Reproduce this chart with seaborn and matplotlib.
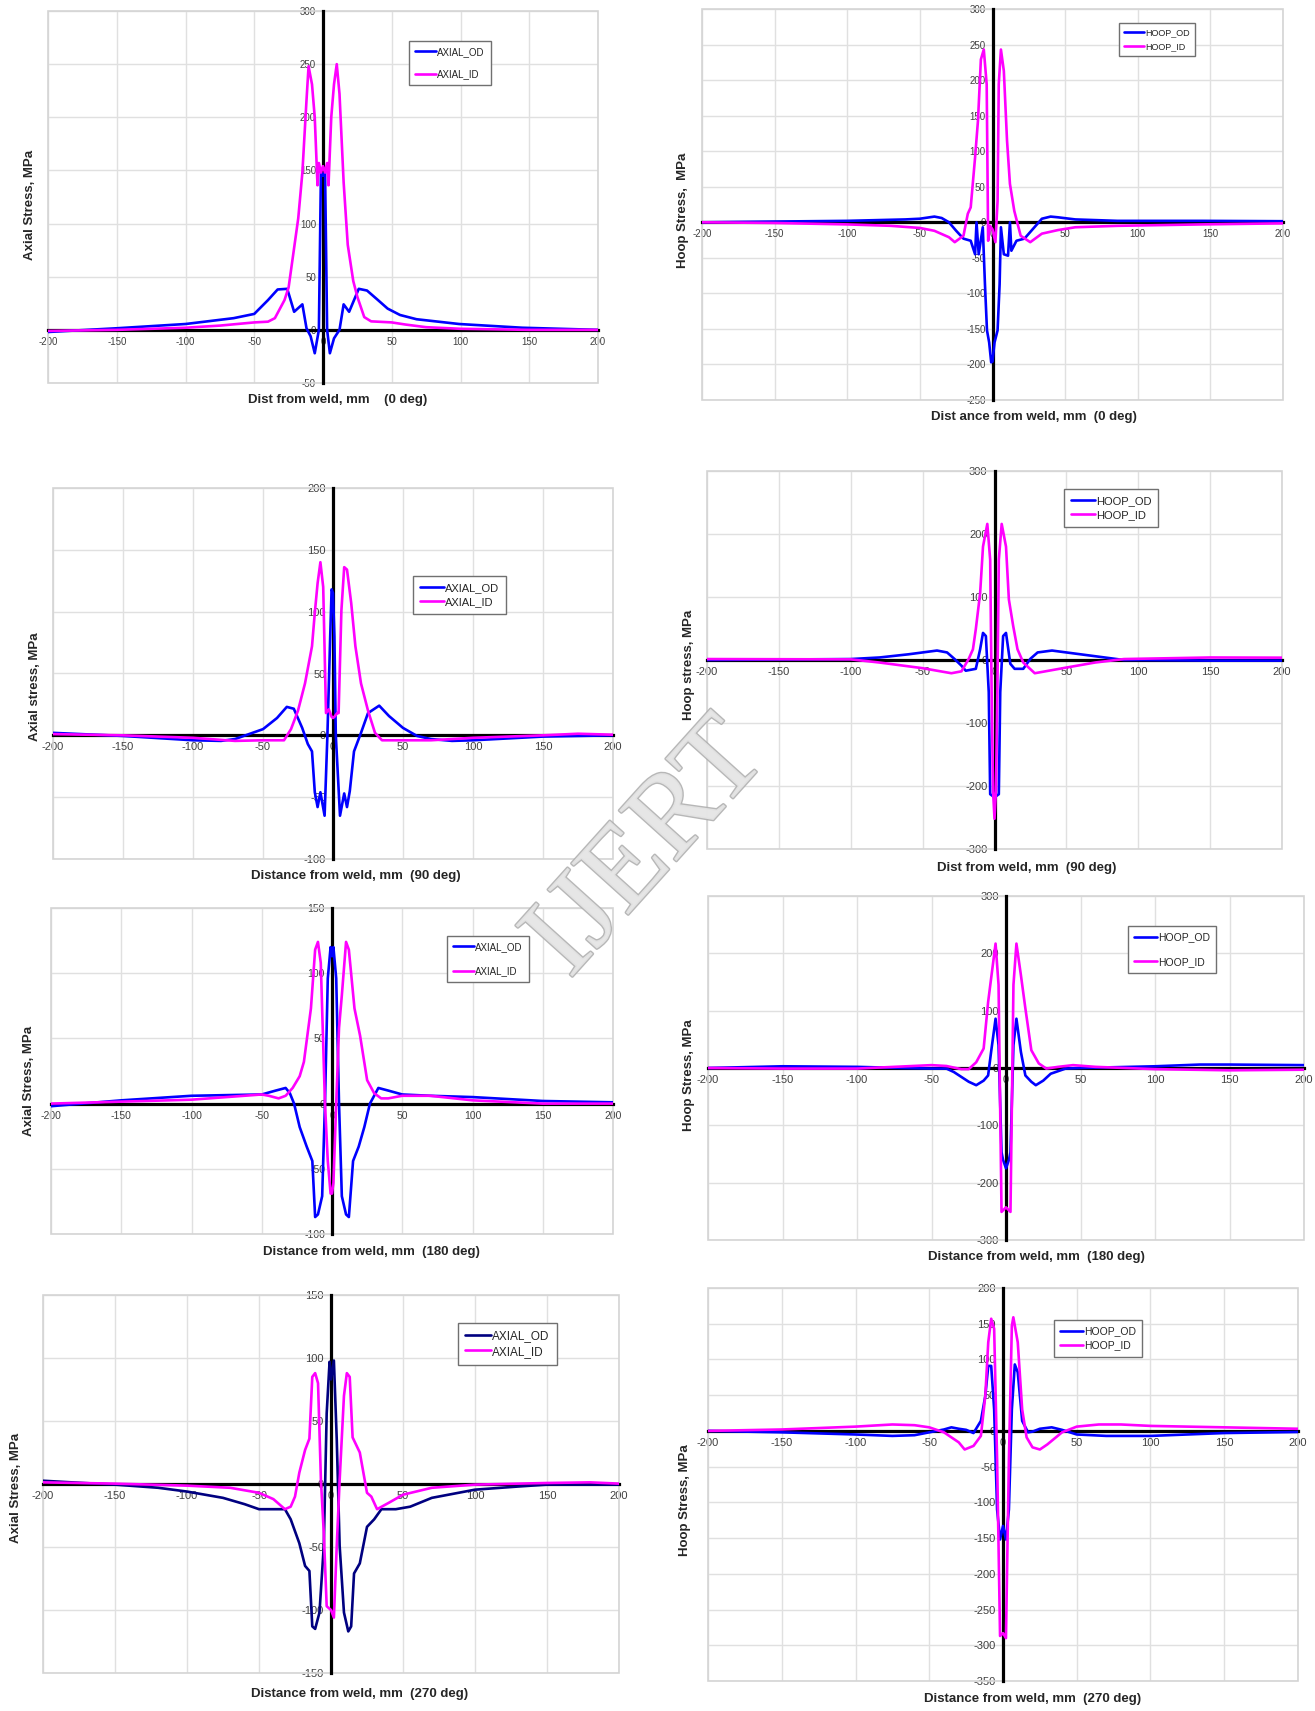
import matplotlib
matplotlib.use("Agg")
import matplotlib.pyplot as plt
import matplotlib.patheffects as pe
from matplotlib.patches import Rectangle
import seaborn as sns

sns.set_style("white")
plt.rcParams["font.family"] = ["Liberation Sans", "DejaVu Sans"]
plt.rcParams["axes.unicode_minus"] = False

# ---- data ----
# 0 deg, axial
x_a0_od = [-200, -150, -100, -65, -50, -40, -33, -26, -21, -15, -12, -9, -6, -3, -1.5, 0, 1.5, 3, 5, 8, 12, 15, 19, 26, 32, 40, 47, 56, 68, 99, 145, 200]
od_a0 = [-2, 1.5, 5.5, 11, 15, 28, 38, 38.6, 17, 24, 1.5, -6, -22, 0, 148, 145, 148, 0, -22, -8, 0, 24, 17, 38.6, 37, 28, 20, 14, 10, 5.5, 2, 0]
x_a0_id = [-200, -150, -100, -75, -50, -40, -35, -28, -25, -18, -15, -12, -10.5, -8, -6, -4, -3, -1.5, 0, 1.5, 3, 4, 6, 8, 10, 12, 15, 18, 22, 25, 30, 35, 50, 60, 75, 100, 150, 200]
id_a0 = [-1, 0, 2, 4, 7, 7.7, 11, 28, 40, 105, 148, 216, 248, 231, 200, 136, 157, 148, 154, 148, 157, 136, 200, 231, 250, 222, 139, 80, 46, 31, 12, 8, 7, 5, 2.5, 1, 0, 0]

# 0 deg, hoop
x_h0_od = [-200, -150, -100, -60, -50, -40, -35, -30, -25, -20, -15, -12, -11, -9.5, -6.7, -5.2, -3.8, -2.3, -0.9, 0, 1.4, 3.5, 4.9, 5.8, 7.8, 10.7, 12, 13, 16.5, 22, 28, 34, 40, 45, 57, 86, 144, 200]
od_h0 = [0, 1, 2, 4, 5, 8, 6, 0, -12, -23, -26, -45, 0, -45, -7, -87, -152, -169, -197, -196, -169, -152, -87, -7, -45, -47, 0, -40, -26, -23, -9, 5, 8, 7, 4, 2, 2, 1.5]
x_h0_id = [-200, -150, -100, -70, -50, -40, -30, -26, -20, -17, -15, -12, -10, -8, -6, -4, -3, -1.7, 0, 2, 3.5, 4.3, 5.8, 7.8, 10, 12, 15, 19.4, 26, 34, 45, 57, 86, 144, 200]
id_h0 = [0, -1, -3, -5, -8, -12, -21, -28, -19, 12, 21, 91, 143, 229, 243, 194, -26, -5, -10, -28, 30, 194, 243, 213, 115, 54, 16, -19, -28, -16, -11, -7, -5, -3, -1.5]

# 90 deg, axial
x_a90_od = [-200, -150, -100, -80, -70, -60, -50, -40, -33, -28, -22, -18, -15, -13, -11, -9, -6, -4, -2, -1, 0, 1, 2, 5, 8, 10, 12, 15, 20, 25, 33, 40, 50, 60, 70, 85, 100, 150, 200]
od_a90 = [2, -0.5, -4, -4.5, -3, 1, 5, 14, 23, 21.5, 6, -7, -13, -46, -58, -46, -65, 0, 80, 118, 115, 80, 0, -65, -47, -58, -45, -13, 2, 18, 24, 15.6, 6, -0.5, -3, -4.5, -4, -1, 0]
x_a90_id = [-200, -150, -100, -70, -50, -35, -30, -25, -20, -15, -13, -11, -9, -7, -5, -3, -1, 0, 1, 3, 4, 6, 8, 10, 13, 16, 20, 25, 30, 35, 50, 70, 100, 150, 175, 200]
id_a90 = [1, 0, -2, -4.5, -4, -4, 5, 20, 42, 72, 99, 123, 140, 120, 18, 21, 15, 14, 15, 18, 18, 101, 136, 134, 107, 72, 42, 20, 2, -4, -4, -4, -2, 0, 1.3, 0.5]

# 90 deg, hoop
x_h90_od = [-200, -100, -80, -60, -40, -33, -28, -23, -20, -13, -10, -8, -6, -4, -3, 0, 3, 4, 6, 8, 11, 14, 20, 25, 30, 40, 50, 70, 90, 100, 150, 200]
od_h90 = [0, 1.5, 4, 9, 15, 12, 2, -9, -17, -14, 17, 43, 38, -51, -213, -218, -213, -51, 38, 43, -6, -14, -14, 2, 12, 15, 12, 6, 0, 0, -1, -1]
x_h90_id = [-200, -100, -80, -50, -30, -23, -18, -15, -13, -10, -8, -5, -3, -2, -1, 0, 1, 2, 3, 5, 8, 10, 13, 16, 20, 28, 50, 70, 90, 150, 200]
id_h90 = [1.5, 1, -4, -13, -21, -18, 1.5, 17, 49, 106, 180, 216, 159, -51, -208, -252, -208, -51, 159, 216, 180, 96, 54, 17, -4, -21, -12, -4, 1.5, 4, 3.7]

# 180 deg, axial
x_a180_od = [-200, -150, -100, -50, -40, -33, -30, -27, -23, -18, -14, -12, -10, -7, -5, -3, -1, 0, 1, 3, 5, 7, 10, 12, 15, 19, 23, 27, 33, 40, 50, 70, 100, 150, 200]
od_a180 = [-2, 2.5, 6, 7, 10, 12, 8, 0, -18, -33, -44, -87, -85, -71, 0, 96, 120, 113, 120, 96, 0, -71, -85, -87, -44, -33, -18, 0, 12, 10, 7, 6, 5, 2, 1]
x_a180_id = [-200, -150, -100, -50, -45, -38, -33, -28, -23, -20, -15, -12, -10, -8, -5, -3, -1, 0, 1, 3, 5, 7, 10, 12, 16, 20, 25, 30, 35, 40, 50, 70, 100, 150, 200]
id_a180 = [0, 1.5, 3, 7, 6, 4, 6, 12, 21, 32, 73, 118, 124, 108, 0, -44, -69, -69, -61, 0, 58, 83, 124, 118, 73, 52, 18, 8, 4, 4, 6, 6, 2.5, 0, 0]

# 180 deg, hoop
x_h180_od = [-200, -150, -100, -70, -50, -40, -35, -25, -20, -15, -12, -10, -7, -5, -3, -2, 0, 2, 3, 5, 7, 10, 13, 17, 20, 25, 30, 40, 50, 100, 130, 150, 200]
od_h180 = [0, 3, 2, 0, -1, -1, -7, -24, -30, -22, -13, 28, 86, 40, -147, -160, -175, -160, -147, 40, 86, 28, -13, -24, -30, -22, -10, -1, 0, 3, 6, 6, 5]
x_h180_id = [-200, -150, -100, -50, -40, -30, -25, -20, -15, -12, -10, -7, -5, -3, 0, 3, 5, 7, 10, 13, 17, 22, 27, 35, 45, 60, 100, 150, 200]
id_h180 = [0, -1, -1, 5, 3.5, -2, -2, 10, 34, 115, 156, 217, 145, -251, -243, -251, 145, 217, 162, 104, 31, 8, -1, 2, 5, 2, -2, -4, -3]

# 270 deg, axial
x_a270_od = [-200, -180, -150, -120, -100, -75, -60, -50, -40, -32, -28, -22, -18, -15, -13, -11, -8, -5, -3, -1, 0, 2, 4, 6, 9, 12, 14, 16, 20, 25, 30, 35, 45, 55, 70, 100, 130, 150, 200]
od_a270 = [2.6, 1.3, -0.5, -3, -6, -11, -16, -20, -20, -20, -28, -47, -65, -69, -113, -115, -102, -49, 56, 97, 83, 98, 35, -49, -102, -117, -113, -71, -63, -34, -28, -20, -20, -18, -11, -4.5, -2, -0.5, -0.5]
x_a270_id = [-200, -150, -100, -70, -50, -40, -32, -28, -25, -22, -18, -15, -13, -11, -9, -7, -5, -3, 0, 2, 4, 6, 9, 11, 13, 15, 20, 25, 28, 32, 40, 50, 70, 100, 150, 180, 200]
id_a270 = [1.3, 0.3, -1.3, -3, -7, -12, -20, -18, -10, 9, 27, 36, 85, 88, 80, 3, -39, -97, -100, -106, -49, 3, 70, 88, 85, 37, 25, -7, -10, -20, -15, -8.5, -3, -0.5, 0.8, 1.3, 0.3]

# 270 deg, hoop
x_h270_od = [-200, -150, -100, -75, -60, -50, -40, -35, -30, -25, -20, -15, -12, -10, -8, -6, -4, -2, 0, 2, 4, 6, 8, 10, 13, 17, 20, 25, 33, 40, 50, 70, 100, 150, 200]
od_h270 = [0, -2, -5, -7, -6, -2, 2, 5, 3, 1.5, -3, 14, 49, 91, 91, 30, -110, -152, -133, -152, -110, 30, 93, 82, 14, -2, -1, 3, 5, 1.5, -5, -7, -7, -3, -1.5]
x_h270_id = [-200, -150, -100, -75, -60, -50, -40, -30, -26, -20, -15, -12, -10, -8, -6, -4, -2, 0, 2, 4, 6, 7, 10, 13, 16, 20, 25, 30, 40, 50, 65, 80, 100, 150, 200]
id_h270 = [0, 2, 6, 9, 8, 5, -2, -16, -26, -21, -7, 49, 124, 157, 143, -40, -287, -283, -290, -40, 147, 159, 124, 30, -9, -23, -26, -19, -2, 6, 9, 9, 7, 5, 3]

x_ticks = [-200, -150, -100, -50, 0, 50, 100, 150, 200]

W, H = 1315, 1711
fig = plt.figure(figsize=(W / 100, H / 100), dpi=100)


def panel(box, xo, yo, xi, yi, names, ylim, ystep, xlabel, xl_pos, ylabel, yl_pos,
          leg_box, fs_tick, fs_leg, lspace, od_color="#0000ff"):
    x0, y0, x1, y1 = box
    ax = fig.add_axes([x0 / W, 1 - y1 / H, (x1 - x0) / W, (y1 - y0) / H])
    sns.lineplot(x=xo, y=yo, ax=ax, color=od_color, lw=1.9, label=names[0],
                 sort=False, estimator=None, zorder=3)
    sns.lineplot(x=xi, y=yi, ax=ax, color="#ff00ff", lw=1.9, label=names[1],
                 sort=False, estimator=None, zorder=3)
    ax.set_xlim(-200, 200)
    ax.set_ylim(*ylim)
    ax.set_xticks(x_ticks)
    ax.set_yticks(list(range(ylim[0], ylim[1] + 1, ystep)))
    ax.grid(True, color="#e0e0e0", lw=1)
    ax.set_axisbelow(True)
    for s in ["top", "right"]:
        ax.spines[s].set_visible(False)
    for s in ["left", "bottom"]:
        ax.spines[s].set_position(("data", 0))
        ax.spines[s].set_linewidth(2.3)
        ax.spines[s].set_color("black")
        ax.spines[s].set_zorder(2.5)
    ax.add_patch(Rectangle((0, 0), 1, 1, transform=ax.transAxes, fill=False,
                           ec="#d4d4d4", lw=1.2, clip_on=False, zorder=1))
    ax.tick_params(direction="out", length=3, width=1.3, color="black",
                   labelcolor="#404040", labelsize=fs_tick, pad=2)
    ax.set_xlabel("")
    ax.set_ylabel("")
    ax.legend(loc="upper left", bbox_to_anchor=(leg_box[0] / W, 1 - leg_box[1] / H),
              bbox_transform=fig.transFigure, borderaxespad=0, fontsize=fs_leg,
              fancybox=False, edgecolor="#707070", framealpha=1, handlelength=2.2,
              handletextpad=0.1, labelspacing=lspace, borderpad=0.6)
    ax.get_legend().get_frame().set_linewidth(1.0)
    fig.text(xl_pos[0] / W, 1 - xl_pos[1] / H, xlabel, ha="center", va="center",
             fontsize=9.5, fontweight="bold")
    fig.text(yl_pos[0] / W, 1 - yl_pos[1] / H, ylabel, ha="center", va="center",
             rotation=90, fontsize=9.5, fontweight="bold")
    return ax


panel((48, 11, 598, 383), x_a0_od, od_a0, x_a0_id, id_a0, ["AXIAL_OD", "AXIAL_ID"],
      (-50, 300), 50, "Dist from weld, mm    (0 deg)", (338, 400),
      "Axial Stress, MPa", (30, 205), (409, 41), 7, 7, 1.3)
panel((702, 9, 1283, 400), x_h0_od, od_h0, x_h0_id, id_h0, ["HOOP_OD", "HOOP_ID"],
      (-250, 300), 50, "Dist ance from weld, mm  (0 deg)", (1034, 417),
      "Hoop Stress,  MPa", (683, 210), (1119, 23), 7, 6.5, 0.5)
panel((53, 488, 613, 859), x_a90_od, od_a90, x_a90_id, id_a90, ["AXIAL_OD", "AXIAL_ID"],
      (-100, 200), 50, "Distance from weld, mm  (90 deg)", (356, 876),
      "Axial stress, MPa", (35, 687), (413, 576), 8, 8, 0.4)
panel((707, 471, 1282, 849), x_h90_od, od_h90, x_h90_id, id_h90, ["HOOP_OD", "HOOP_ID"],
      (-300, 300), 100, "Dist from weld, mm  (90 deg)", (1027, 868),
      "Hoop stress, MPa", (689, 665), (1064, 489), 8, 8, 0.4)
panel((51, 908, 613, 1234), x_a180_od, od_a180, x_a180_id, id_a180, ["AXIAL_OD", "AXIAL_ID"],
      (-100, 150), 50, "Distance from weld, mm  (180 deg)", (371, 1252),
      "Axial Stress, MPa", (29, 1081), (447, 936), 7.5, 7, 1.5)
panel((708, 896, 1304, 1240), x_h180_od, od_h180, x_h180_id, id_h180, ["HOOP_OD", "HOOP_ID"],
      (-300, 300), 100, "Distance from weld, mm  (180 deg)", (1036, 1257),
      "Hoop Stress, MPa", (689, 1075), (1128, 926), 8, 7.5, 1.4)
panel((43, 1295, 619, 1673), x_a270_od, od_a270, x_a270_id, id_a270, ["AXIAL_OD", "AXIAL_ID"],
      (-150, 150), 50, "Distance from weld, mm  (270 deg)", (360, 1694),
      "Axial Stress, MPa", (16, 1488), (458, 1323), 8, 8.5, 0.3, od_color="#000080")
panel((708, 1288, 1298, 1681), x_h270_od, od_h270, x_h270_id, id_h270, ["HOOP_OD", "HOOP_ID"],
      (-350, 200), 50, "Distance from weld, mm  (270 deg)", (1033, 1699),
      "Hoop Stress, MPa", (685, 1500), (1054, 1320), 8, 7.5, 0.4)

# watermark
fig.text(0.493, 0.503, "IJERT", rotation=48, fontsize=84, family="Liberation Serif",
         color="#e6e6e6", ha="center", va="center", zorder=10, alpha=0.9,
         path_effects=[pe.withStroke(linewidth=2, foreground="#b0b0b0")])

fig.savefig("out.png", dpi=100)
